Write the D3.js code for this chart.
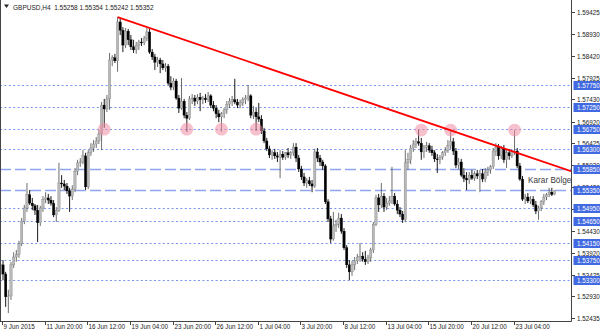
<!DOCTYPE html>
<html><head><meta charset="utf-8">
<script src="https://cdn.jsdelivr.net/npm/d3@7"></script>
<style>body{margin:0;background:#fff}svg{display:block}text{font-family:"Liberation Sans",Arial,sans-serif}</style>
</head><body><svg id="c" width="600" height="333"></svg>
<script>
// ---- data (GBPUSD H4, 9 Jun 2015 04:00 .. 27 Jul 2015) ----
const open = [
1.5365,1.5344,1.5292,1.5294,1.5365,1.5383,1.5388,1.5413,1.5465,1.5495,
1.5525,1.5506,1.5500,1.5490,1.5461,1.5495,1.5515,1.5518,1.5513,1.5506,
1.5479,1.5490,1.5552,1.5550,1.5545,1.5534,1.5522,1.5538,1.5579,1.5598,
1.5600,1.5614,1.5543,1.5621,1.5632,1.5641,1.5648,1.5664,1.5730,1.5721,
1.5744,1.5833,1.5838,1.5831,1.5920,1.5901,1.5867,1.5899,1.5879,1.5863,
1.5856,1.5867,1.5874,1.5872,1.5883,1.5897,1.5851,1.5840,1.5828,1.5833,
1.5824,1.5815,1.5819,1.5780,1.5771,1.5785,1.5746,1.5723,1.5739,1.5707,
1.5700,1.5744,1.5746,1.5739,1.5748,1.5742,1.5746,1.5742,1.5751,1.5730,
1.5723,1.5710,1.5703,1.5710,1.5719,1.5732,1.5739,1.5742,1.5737,1.5730,
1.5735,1.5742,1.5746,1.5751,1.5707,1.5714,1.5703,1.5698,1.5671,1.5648,
1.5630,1.5616,1.5621,1.5614,1.5611,1.5618,1.5611,1.5621,1.5616,1.5621,
1.5634,1.5609,1.5584,1.5566,1.5552,1.5557,1.5550,1.5545,1.5623,1.5609,
1.5600,1.5591,1.5509,1.5470,1.5424,1.5454,1.5458,1.5472,1.5442,1.5404,
1.5365,1.5349,1.5365,1.5374,1.5383,1.5385,1.5378,1.5372,1.5381,1.5399,
1.5458,1.5518,1.5502,1.5522,1.5497,1.5506,1.5511,1.5522,1.5504,1.5490,
1.5481,1.5468,1.5598,1.5605,1.5632,1.5641,1.5646,1.5643,1.5623,1.5634,
1.5637,1.5627,1.5621,1.5607,1.5605,1.5611,1.5621,1.5627,1.5637,1.5646,
1.5625,1.5593,1.5600,1.5570,1.5563,1.5559,1.5570,1.5563,1.5573,1.5568,
1.5573,1.5561,1.5577,1.5582,1.5589,1.5625,1.5634,1.5614,1.5630,1.5605,
1.5621,1.5614,1.5623,1.5625,1.5591,1.5561,1.5515,1.5520,1.5511,1.5515,
1.5502,1.5488,1.5495,1.5509,1.5520,1.5525,1.5531,1.55258];
const high = [
1.5376,1.5349,1.5308,1.5372,1.5394,1.5399,1.5420,1.5472,1.5502,1.5552,
1.5536,1.5518,1.5504,1.5502,1.5500,1.5522,1.5531,1.5527,1.5522,1.5513,
1.5497,1.5598,1.5570,1.5559,1.5552,1.5541,1.5547,1.5586,1.5605,1.5609,
1.5627,1.5621,1.5627,1.5643,1.5650,1.5657,1.5673,1.5737,1.5744,1.5753,
1.5849,1.5844,1.5847,1.5931,1.5929,1.5908,1.5906,1.5904,1.5890,1.5879,
1.5874,1.5879,1.5883,1.5888,1.5906,1.5904,1.5858,1.5847,1.5840,1.5838,
1.5833,1.5826,1.5824,1.5796,1.5792,1.5790,1.5753,1.5792,1.5744,1.5714,
1.5751,1.5755,1.5753,1.5755,1.5758,1.5751,1.5755,1.5760,1.5755,1.5739,
1.5730,1.5719,1.5714,1.5723,1.5739,1.5746,1.5751,1.5790,1.5744,1.5742,
1.5748,1.5753,1.5776,1.5755,1.5728,1.5723,1.5735,1.5707,1.5678,1.5655,
1.5637,1.5627,1.5630,1.5623,1.5627,1.5625,1.5623,1.5632,1.5625,1.5643,
1.5643,1.5616,1.5591,1.5575,1.5563,1.5566,1.5559,1.5630,1.5632,1.5616,
1.5605,1.5595,1.5515,1.5477,1.5486,1.5468,1.5484,1.5481,1.5449,1.5410,
1.5376,1.5374,1.5383,1.5390,1.5415,1.5394,1.5397,1.5388,1.5404,1.5463,
1.5525,1.5527,1.5552,1.5529,1.5518,1.5522,1.5589,1.5529,1.5513,1.5497,
1.5488,1.5627,1.5621,1.5639,1.5650,1.5655,1.5673,1.5655,1.5639,1.5646,
1.5643,1.5637,1.5627,1.5618,1.5616,1.5625,1.5634,1.5650,1.5673,1.5655,
1.5632,1.5609,1.5607,1.5586,1.5577,1.5577,1.5582,1.5579,1.5582,1.5582,
1.5584,1.5586,1.5589,1.5593,1.5632,1.5643,1.5641,1.5637,1.5639,1.5627,
1.5630,1.5627,1.5673,1.5632,1.5598,1.5568,1.5527,1.5529,1.5522,1.5522,
1.5511,1.5500,1.5513,1.5527,1.5529,1.5541,1.5541,1.55354];
const low = [
1.5330,1.5269,1.5255,1.5285,1.5358,1.5372,1.5381,1.5408,1.5458,1.5486,
1.5502,1.5490,1.5479,1.5417,1.5454,1.5486,1.5506,1.5504,1.5500,1.5474,
1.5463,1.5486,1.5541,1.5536,1.5527,1.5486,1.5513,1.5531,1.5570,1.5589,
1.5595,1.5536,1.5538,1.5614,1.5623,1.5632,1.5641,1.5627,1.5678,1.5714,
1.5719,1.5819,1.5826,1.5806,1.5890,1.5851,1.5860,1.5867,1.5856,1.5849,
1.5847,1.5856,1.5865,1.5867,1.5876,1.5847,1.5833,1.5810,1.5817,1.5803,
1.5810,1.5806,1.5776,1.5764,1.5764,1.5742,1.5712,1.5719,1.5700,1.5669,
1.5696,1.5732,1.5728,1.5732,1.5716,1.5732,1.5735,1.5737,1.5723,1.5716,
1.5700,1.5691,1.5669,1.5700,1.5710,1.5723,1.5728,1.5732,1.5723,1.5723,
1.5728,1.5732,1.5739,1.5700,1.5698,1.5671,1.5691,1.5664,1.5643,1.5625,
1.5609,1.5605,1.5607,1.5600,1.5563,1.5605,1.5605,1.5609,1.5607,1.5614,
1.5600,1.5577,1.5559,1.5545,1.5541,1.5545,1.5531,1.5541,1.5600,1.5591,
1.5582,1.5504,1.5463,1.5415,1.5420,1.5440,1.5449,1.5436,1.5399,1.5358,
1.5330,1.5340,1.5353,1.5367,1.5372,1.5372,1.5365,1.5367,1.5372,1.5392,
1.5454,1.5486,1.5495,1.5486,1.5490,1.5500,1.5504,1.5500,1.5481,1.5474,
1.5461,1.5463,1.5582,1.5595,1.5623,1.5632,1.5637,1.5605,1.5609,1.5623,
1.5621,1.5614,1.5600,1.5575,1.5595,1.5605,1.5614,1.5621,1.5630,1.5616,
1.5586,1.5584,1.5566,1.5554,1.5536,1.5550,1.5559,1.5557,1.5561,1.5531,
1.5554,1.5554,1.5568,1.5573,1.5584,1.5614,1.5605,1.5607,1.5598,1.5586,
1.5605,1.5609,1.5616,1.5586,1.5557,1.5511,1.5504,1.5506,1.5504,1.5497,
1.5481,1.5468,1.5488,1.5502,1.5513,1.5520,1.5522,1.55242];
const close = [
1.5344,1.5292,1.5294,1.5365,1.5383,1.5388,1.5413,1.5465,1.5495,1.5525,
1.5506,1.5500,1.5490,1.5461,1.5495,1.5515,1.5518,1.5513,1.5506,1.5479,
1.5490,1.5552,1.5550,1.5545,1.5534,1.5522,1.5538,1.5579,1.5598,1.5600,
1.5614,1.5543,1.5621,1.5632,1.5641,1.5648,1.5664,1.5730,1.5721,1.5744,
1.5833,1.5838,1.5831,1.5920,1.5901,1.5867,1.5899,1.5879,1.5863,1.5856,
1.5867,1.5874,1.5872,1.5883,1.5897,1.5851,1.5840,1.5828,1.5833,1.5824,
1.5815,1.5819,1.5780,1.5771,1.5785,1.5746,1.5723,1.5739,1.5707,1.5700,
1.5744,1.5746,1.5739,1.5748,1.5742,1.5746,1.5742,1.5751,1.5730,1.5723,
1.5710,1.5703,1.5710,1.5719,1.5732,1.5739,1.5742,1.5737,1.5730,1.5735,
1.5742,1.5746,1.5751,1.5707,1.5714,1.5703,1.5698,1.5671,1.5648,1.5630,
1.5616,1.5621,1.5614,1.5611,1.5618,1.5611,1.5621,1.5616,1.5621,1.5634,
1.5609,1.5584,1.5566,1.5552,1.5557,1.5550,1.5545,1.5623,1.5609,1.5600,
1.5591,1.5509,1.5470,1.5424,1.5454,1.5458,1.5472,1.5442,1.5404,1.5365,
1.5349,1.5365,1.5374,1.5383,1.5385,1.5378,1.5372,1.5381,1.5399,1.5458,
1.5518,1.5502,1.5522,1.5497,1.5506,1.5511,1.5522,1.5504,1.5490,1.5481,
1.5468,1.5598,1.5605,1.5632,1.5641,1.5646,1.5643,1.5623,1.5634,1.5637,
1.5627,1.5621,1.5607,1.5605,1.5611,1.5621,1.5627,1.5637,1.5646,1.5625,
1.5593,1.5600,1.5570,1.5563,1.5559,1.5570,1.5563,1.5573,1.5568,1.5573,
1.5561,1.5577,1.5582,1.5589,1.5625,1.5634,1.5614,1.5630,1.5605,1.5621,
1.5614,1.5623,1.5625,1.5591,1.5561,1.5515,1.5520,1.5511,1.5515,1.5502,
1.5488,1.5495,1.5509,1.5520,1.5525,1.5531,1.5526,1.55352];

const xTickBars = [0,16,32,48,64,80,96,112,128,144,160,176,192];
const xTickLabels = ["9 Jun 2015","11 Jun 20:00","16 Jun 12:00","19 Jun 04:00","23 Jun 20:00","26 Jun 12:00","1 Jul 04:00","3 Jul 20:00","8 Jul 12:00","13 Jul 04:00","15 Jul 20:00","20 Jul 12:00","23 Jul 04:00"];
const yTickLabels = ["1.59425","1.58930","1.58420","1.57925","1.57430","1.56920","1.56425","1.55930","1.55430","1.54930","1.54430","1.53920","1.53425","1.52930","1.52435"];
const dottedLevels = [1.5775,1.5725,1.5675,1.5630,1.5495,1.5465,1.5415,1.5375,1.5330];
const dashedLevels = [1.5585,1.5535];
const circleBars = [38,69,82,95,157,168,192];
const circlePrices = [1.5675,1.5675,1.5675,1.5675,1.5673,1.5673,1.5673];
const trendBars = [43,213.2];
const trendPrices = [1.5931,1.5579];
const zoneLabel = "Karar Bölgesi";
const zoneLabelBar = 197.1, zoneLabelPrice = 1.5552;
const title = "GBPUSD,H4  1.55258 1.55354 1.55242 1.55352";

// ---- drawing ----
const plotR = 571, plotB = 321;
const x = d3.scaleLinear().domain([0,207]).range([3,554.5]);
const y = d3.scaleLinear().domain([1.52368,1.5970]).range([plotB,0]);
const svg = d3.select('#c');
svg.append('defs').append('clipPath').attr('id','pc').append('rect')
  .attr('x',0).attr('y',0).attr('width',plotR).attr('height',plotB);
const g = svg.append('g').attr('clip-path','url(#pc)');
const py = v => Math.round(y(v))+0.5;

g.selectAll('line.dot').data(dottedLevels).enter().append('line')
  .attr('x1',0).attr('x2',plotR).attr('y1',py).attr('y2',py)
  .attr('stroke','#7693ee').attr('stroke-width',1).attr('stroke-dasharray','2,2.4');
g.selectAll('line.dash').data(dashedLevels).enter().append('line')
  .attr('x1',0).attr('x2',plotR).attr('y1',py).attr('y2',py)
  .attr('stroke','#8ea6f0').attr('stroke-width',1.4).attr('stroke-dasharray','11,4');

const bars = d3.range(open.length).map(i=>({i,o:open[i],h:high[i],l:low[i],c:close[i]}));
const cg = g.append('g');
cg.selectAll('line.w').data(bars).enter().append('line')
  .attr('x1',d=>x(d.i)).attr('x2',d=>x(d.i))
  .attr('y1',d=>y(d.h)).attr('y2',d=>y(d.l))
  .attr('stroke',d=>d.c>=d.o?'#5c5c5c':'#000').attr('stroke-width',0.9);
cg.selectAll('rect.b').data(bars).enter().append('rect')
  .attr('x',d=>x(d.i)-1.2).attr('width',2.4)
  .attr('y',d=>y(Math.max(d.o,d.c)))
  .attr('height',d=>Math.max(0.8,Math.abs(y(d.o)-y(d.c))))
  .attr('fill',d=>d.c>=d.o?'#b8b8b8':'#000')
  .attr('stroke',d=>d.c>=d.o?'#7a7a7a':'#000').attr('stroke-width',0.3);

g.selectAll('circle.m').data(circleBars).enter().append('circle')
  .attr('cx',d=>x(d)).attr('cy',(d,k)=>y(circlePrices[k])).attr('r',6.4)
  .attr('fill','#f08ca4').attr('fill-opacity',0.55);

g.append('line').attr('x1',x(trendBars[0])).attr('y1',y(trendPrices[0]))
  .attr('x2',x(trendBars[1])).attr('y2',y(trendPrices[1]))
  .attr('stroke','#ff0000').attr('stroke-width',1.8);

g.append('text').attr('x',x(zoneLabelBar)).attr('y',y(zoneLabelPrice))
  .attr('font-size',8.2).attr('fill','#3a3a3a').text(zoneLabel);

// frame
svg.append('line').attr('x1',0.5).attr('x2',0.5).attr('y1',0).attr('y2',plotB+0.5).attr('stroke','#444');
svg.append('line').attr('x1',plotR+0.5).attr('x2',plotR+0.5).attr('y1',0).attr('y2',plotB+0.5).attr('stroke','#444');
svg.append('line').attr('x1',0).attr('x2',plotR+0.5).attr('y1',plotB+0.5).attr('y2',plotB+0.5).attr('stroke','#444');

// right axis regular ticks
const ax = svg.append('g');
yTickLabels.forEach(s=>{
  const v=+s, yy=py(v);
  ax.append('line').attr('x1',plotR).attr('x2',plotR+4).attr('y1',yy).attr('y2',yy).attr('stroke','#444');
  ax.append('text').attr('x',577).attr('y',yy).attr('dy','0.35em').attr('font-size',6.3).attr('fill','#222').text(s);
});
// highlighted level labels
const hl = dottedLevels.concat(dashedLevels);
hl.forEach(v=>{
  const yy=py(v);
  ax.append('rect').attr('x',573.5).attr('y',yy-4.5).attr('width',27).attr('height',9).attr('fill','#4169e1');
  ax.append('text').attr('x',577).attr('y',yy).attr('dy','0.35em').attr('font-size',6.3).attr('fill','#fff').text(v.toFixed(5));
});

// x axis
xTickBars.forEach((b,k)=>{
  const xx=Math.round(x(b))-0.5;
  ax.append('line').attr('x1',xx).attr('x2',xx).attr('y1',plotB).attr('y2',plotB+4).attr('stroke','#444');
  ax.append('text').attr('x',xx+1).attr('y',328.5).attr('font-size',6.3).attr('fill','#222').text(xTickLabels[k]);
});

// title
svg.append('path').attr('d','M4,4.5 L9,4.5 L6.5,8 Z').attr('fill','#222');
svg.append('text').attr('x',13).attr('y',9.5).attr('font-size',6.5).attr('fill','#222')
  .attr('xml:space','preserve').style('white-space','pre').text(title);
</script></body></html>
